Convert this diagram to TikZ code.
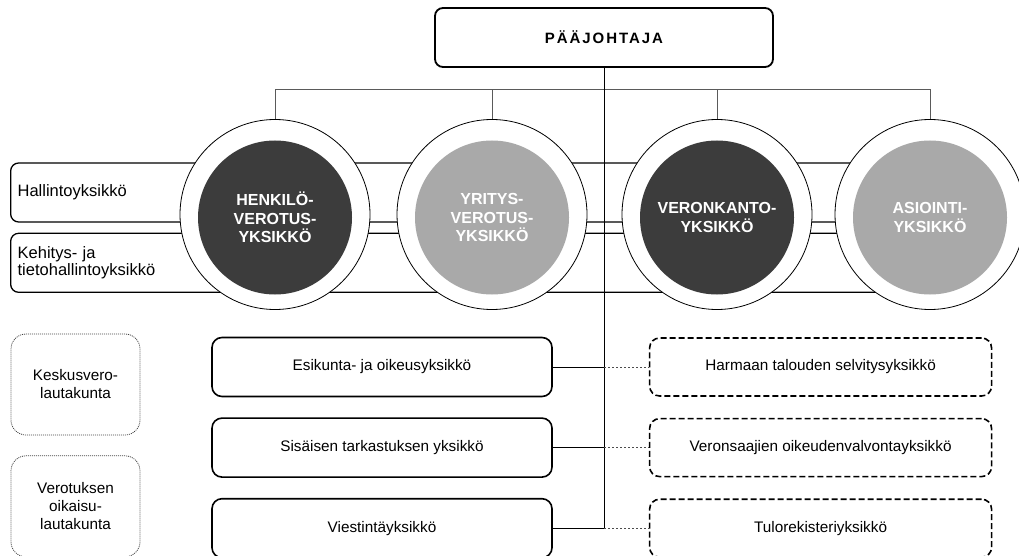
\documentclass[tikz,border=0pt]{standalone}
\usepackage{fontspec}
\setmainfont{Liberation Sans}
\newfontfamily\chieffont{Liberation Sans Bold}[LetterSpace=13]
\usepackage{xcolor}
\usepackage{tikz}
\usetikzlibrary{positioning}
\definecolor{darkunit}{HTML}{3C3C3C}
\definecolor{lightunit}{HTML}{A9A9A9}
\definecolor{busgray}{HTML}{5A5A5A}
\tikzset{
  chiefbox/.style={draw=black,rounded corners=8pt,line width=1.8pt,
    minimum width=338pt,minimum height=59pt,
    font=\chieffont\fontsize{15}{17}\selectfont},
  band/.style={draw=black,rounded corners=8pt,line width=1.3pt,align=left,
    text width=906pt,inner xsep=7pt,minimum height=59pt,
    font=\fontsize{16.5}{17}\selectfont},
  ring/.style={circle,draw=black,fill=white,line width=0.8pt,minimum size=190pt},
  unit/.style={circle,fill=#1,minimum size=154pt,text=white,align=center,
    yshift=-3pt,font=\bfseries\fontsize{16}{18.5}\selectfont},
  unitbox/.style={draw=black,rounded corners=10pt,line width=1.6pt,
    minimum width=340pt,minimum height=59pt,font=\fontsize{15.3}{17}\selectfont},
  sidebox/.style={draw=black,rounded corners=10pt,line width=1.6pt,
    dash pattern=on 6pt off 3pt,minimum width=342pt,minimum height=58pt,
    font=\fontsize{15.3}{17}\selectfont},
  boardbox/.style={draw=black!75,rounded corners=15pt,line width=0.8pt,
    dash pattern=on 1pt off 1pt,minimum width=129pt,minimum height=101pt,
    align=center,font=\fontsize{15.3}{18}\selectfont},
  bus/.style={draw=busgray,line width=0.9pt},
  trunk/.style={draw=black,line width=0.9pt},
  link/.style={draw=black,line width=1pt},
  dotlink/.style={draw=black!70,line width=1pt,dash pattern=on 2pt off 2pt}
}
\begin{document}
\begin{tikzpicture}[x=1pt,y=-1pt]
  \useasboundingbox (0,0) rectangle (1019,556);
  \node[chiefbox] (chief) at (604,37.5) {PÄÄJOHTAJA};
  \node[band,anchor=west] (hallinto) at (10,192.5) {Hallintoyksikkö};
  \node[band,below=10pt of hallinto] (kehitys) {Kehitys- ja\\tietohallintoyksikkö};
  \node[ring] (henkilo) at (275,214.5) {};
  \node[ring] (yritys) at (492,214.5) {};
  \node[ring] (veronkanto) at (717,214.5) {};
  \node[ring] (asiointi) at (930,214.5) {};
  \node[unit=darkunit] at (henkilo) {HENKILÖ-\\VEROTUS-\\YKSIKKÖ};
  \node[unit=lightunit] at (yritys) {YRITYS-\\VEROTUS-\\YKSIKKÖ};
  \node[unit=darkunit] at (veronkanto) {VERONKANTO-\\YKSIKKÖ};
  \node[unit=lightunit] at (asiointi) {ASIOINTI-\\YKSIKKÖ};
  \node[boardbox] (keskus) at (75.5,384.5) {Keskusvero-\\lautakunta};
  \node[boardbox,below=20pt of keskus] (oikaisu) {Verotuksen\\oikaisu-\\lautakunta};
  \node[unitbox] (esikunta) at (382,367) {Esikunta- ja oikeusyksikkö};
  \node[unitbox,below=20pt of esikunta] (sisainen) {Sisäisen tarkastuksen yksikkö};
  \node[unitbox,below=20pt of sisainen] (viestinta) {Viestintäyksikkö};
  \node[sidebox,right=96pt of esikunta] (harmaa) {Harmaan talouden selvitysyksikkö};
  \node[sidebox,right=96pt of sisainen] (valvonta) {Veronsaajien oikeudenvalvontayksikkö};
  \node[sidebox,right=96pt of viestinta] (tulorek) {Tulorekisteriyksikkö};
  \coordinate (busline) at (0,89);
  \draw[bus] (henkilo.north) -- (henkilo.north |- busline) -- (asiointi.north |- busline) -- (asiointi.north);
  \draw[bus] (yritys.north) -- (yritys.north |- busline);
  \draw[bus] (veronkanto.north) -- (veronkanto.north |- busline);
  \draw[trunk] (chief.south) -- (chief.south |- viestinta.east);
  \draw[link] (esikunta.east) -- (esikunta.east -| chief.south);
  \draw[link] (sisainen.east) -- (sisainen.east -| chief.south);
  \draw[link] (viestinta.east) -- (viestinta.east -| chief.south);
  \draw[dotlink] (esikunta.east -| chief.south) -- (harmaa.west);
  \draw[dotlink] (sisainen.east -| chief.south) -- (valvonta.west);
  \draw[dotlink] (viestinta.east -| chief.south) -- (tulorek.west);
\end{tikzpicture}
\end{document}
